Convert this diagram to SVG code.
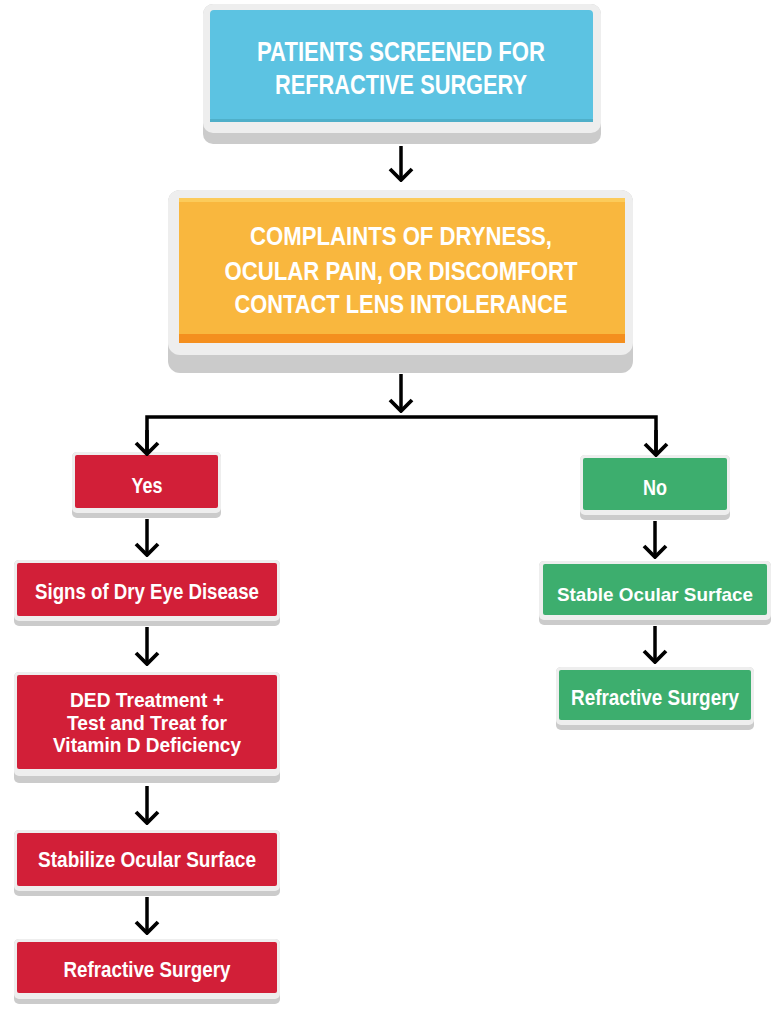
<svg xmlns="http://www.w3.org/2000/svg" width="781" height="1009" viewBox="0 0 781 1009">
<style>
.dark{fill:#CBCBCB}
.light{fill:#EEEEEE}
.blue{fill:#5CC3E2}
.yellow{fill:#F9B73E}
.red{fill:#D21F38}
.green{fill:#3DAE6E}
.t{font-family:"Liberation Sans Narrow","Liberation Sans",Arial,sans-serif;font-weight:bold;fill:#FFFFFF;text-anchor:middle}
.big{font-size:28px}
.mid{font-size:25px}
.sm{font-size:22px}
.ded{font-size:21px}
.xs{font-size:19px}
.conn{fill:none;stroke:#000;stroke-width:3.5}
</style>
<defs>
<marker id="ah" markerUnits="userSpaceOnUse" viewBox="-15 -14 17 28" refX="0" refY="0" markerWidth="17" markerHeight="28" orient="auto">
<path d="M-11,-11 L0,0 L-11,11" fill="none" stroke="#000" stroke-width="3.8" stroke-linejoin="miter"/>
</marker>
</defs>
<rect width="781" height="1009" fill="#FFFFFF"/>

<g id="n1">
<rect class="dark" x="203" y="4" width="398" height="140" rx="10"/>
<rect class="light" x="203" y="4" width="398" height="129" rx="10"/>
<rect class="blue" x="210" y="10" width="383" height="112" rx="4"/>
<rect x="210" y="119" width="383" height="3" fill="#4FAFC9"/>
<text class="t big" x="401" y="61" textLength="288" lengthAdjust="spacingAndGlyphs">PATIENTS SCREENED FOR</text>
<text class="t big" x="401" y="94" textLength="252" lengthAdjust="spacingAndGlyphs">REFRACTIVE SURGERY</text>
</g>

<g id="n2">
<rect class="dark" x="168" y="190" width="465" height="183" rx="12"/>
<rect class="light" x="168" y="190" width="465" height="165" rx="12"/>
<rect class="yellow" x="179" y="198" width="446" height="145" rx="4"/>
<rect x="179" y="198" width="446" height="4" fill="#FCCB5A"/>
<rect x="179" y="334" width="446" height="9" fill="#F48F1E"/>
<text class="t mid" x="401" y="245" textLength="302" lengthAdjust="spacingAndGlyphs">COMPLAINTS OF DRYNESS,</text>
<text class="t mid" x="401" y="280" textLength="353" lengthAdjust="spacingAndGlyphs">OCULAR PAIN, OR DISCOMFORT</text>
<text class="t mid" x="401" y="313" textLength="333" lengthAdjust="spacingAndGlyphs">CONTACT LENS INTOLERANCE</text>
</g>

<g id="n3">
<rect class="dark" x="72" y="452" width="149" height="66" rx="5"/>
<rect class="light" x="72" y="452" width="149" height="61" rx="5"/>
<rect class="red" x="75" y="455" width="143" height="53" rx="2"/>
<text class="t sm" x="147" y="493" textLength="31" lengthAdjust="spacingAndGlyphs">Yes</text>
</g>

<g id="n4">
<rect class="dark" x="14" y="560" width="266" height="66" rx="5"/>
<rect class="light" x="14" y="560" width="266" height="61" rx="5"/>
<rect class="red" x="17" y="563" width="260" height="53" rx="2"/>
<text class="t sm" x="147" y="599" textLength="224" lengthAdjust="spacingAndGlyphs">Signs of Dry Eye Disease</text>
</g>

<g id="n5">
<rect class="dark" x="14" y="672" width="266" height="111" rx="5"/>
<rect class="light" x="14" y="672" width="266" height="104" rx="5"/>
<rect class="red" x="17" y="675" width="260" height="94" rx="2"/>
<text class="t ded" x="147" y="707" textLength="154" lengthAdjust="spacingAndGlyphs">DED Treatment +</text>
<text class="t ded" x="147" y="730" textLength="160" lengthAdjust="spacingAndGlyphs">Test and Treat for</text>
<text class="t ded" x="147" y="752" textLength="188" lengthAdjust="spacingAndGlyphs">Vitamin D Deficiency</text>
</g>

<g id="n6">
<rect class="dark" x="14" y="830" width="266" height="66" rx="5"/>
<rect class="light" x="14" y="830" width="266" height="61" rx="5"/>
<rect class="red" x="17" y="833" width="260" height="53" rx="2"/>
<text class="t sm" x="147" y="867" textLength="218" lengthAdjust="spacingAndGlyphs">Stabilize Ocular Surface</text>
</g>

<g id="n7">
<rect class="dark" x="14" y="939" width="266" height="65" rx="5"/>
<rect class="light" x="14" y="939" width="266" height="60" rx="5"/>
<rect class="red" x="17" y="942" width="260" height="51" rx="2"/>
<text class="t sm" x="147" y="977" textLength="167" lengthAdjust="spacingAndGlyphs">Refractive Surgery</text>
</g>

<g id="n8">
<rect class="dark" x="580" y="455" width="150" height="65" rx="5"/>
<rect class="light" x="580" y="455" width="150" height="60" rx="5"/>
<rect class="green" x="583" y="458" width="144" height="52" rx="2"/>
<text class="t sm" x="655" y="495" textLength="24" lengthAdjust="spacingAndGlyphs">No</text>
</g>

<g id="n9">
<rect class="dark" x="539" y="561" width="232" height="64" rx="5"/>
<rect class="light" x="539" y="561" width="232" height="59" rx="5"/>
<rect class="green" x="543" y="564" width="224" height="51" rx="2"/>
<text class="t xs" x="655" y="601" textLength="196" lengthAdjust="spacingAndGlyphs">Stable Ocular Surface</text>
</g>

<g id="n10">
<rect class="dark" x="556" y="667" width="198" height="63" rx="5"/>
<rect class="light" x="556" y="667" width="198" height="58" rx="5"/>
<rect class="green" x="559" y="670" width="192" height="50" rx="2"/>
<text class="t sm" x="655" y="705" textLength="168" lengthAdjust="spacingAndGlyphs">Refractive Surgery</text>
</g>

<g id="connectors">
<path class="conn" d="M401,146 L401,180" marker-end="url(#ah)"/>
<path class="conn" d="M401,374 L401,411" marker-end="url(#ah)"/>
<path class="conn" d="M147,453 L147,417 L656,417 L656,455" stroke-linejoin="miter"/>
<path class="conn" d="M147,430 L147,454" marker-end="url(#ah)"/>
<path class="conn" d="M656,430 L656,455" marker-end="url(#ah)"/>
<path class="conn" d="M147,519 L147,555" marker-end="url(#ah)"/>
<path class="conn" d="M147,627 L147,664" marker-end="url(#ah)"/>
<path class="conn" d="M147,786 L147,823" marker-end="url(#ah)"/>
<path class="conn" d="M147,897 L147,933" marker-end="url(#ah)"/>
<path class="conn" d="M655,521 L655,557" marker-end="url(#ah)"/>
<path class="conn" d="M655,626 L655,662" marker-end="url(#ah)"/>
</g>
</svg>
